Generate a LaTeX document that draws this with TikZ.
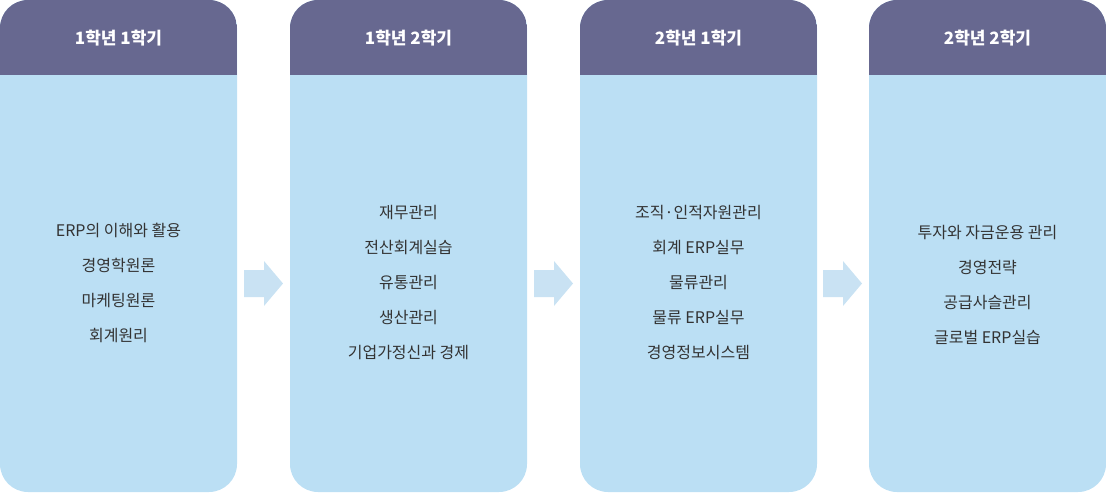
\documentclass[tikz,border=0pt]{standalone}
\usepackage{fontspec}
\setmainfont{Noto Sans CJK KR}
\definecolor{hdr}{HTML}{676890}
\definecolor{bodyc}{HTML}{BBDFF4}
\definecolor{arr}{HTML}{C9E2F3}
\definecolor{txt}{HTML}{333333}
\tikzset{
 card/.style={fill=bodyc,rounded corners=28pt},
 hd/.style={text=white,font=\fontsize{17}{20}\selectfont\bfseries},
 lst/.style={text=txt,font=\fontsize{16}{35}\selectfont,align=center},
 arrowshape/.style={fill=arr}
}
\begin{document}
\begin{tikzpicture}[x=1pt,y=-1pt]
\useasboundingbox (0,0) rectangle (1106,493);
\foreach \i/\x in {1/0,2/290,3/580,4/869}{
  \fill[card] (\x,0) rectangle (\x+237,492);
  \begin{scope}
    \clip[rounded corners=28pt] (\x,0) rectangle (\x+237,492);
    \fill[hdr] (\x,0) rectangle (\x+237,75);
  \end{scope}
  \coordinate (h\i) at (\x+118.5,38);
  \coordinate (b\i) at (\x+118.5,283);
}
\node[hd] (t1) at (h1) {1학년 1학기};
\node[hd] (t2) at (h2) {1학년 2학기};
\node[hd] (t3) at (h3) {2학년 1학기};
\node[hd] (t4) at (h4) {2학년 2학기};
\node[lst] (l1) at (b1) {ERP의 이해와 활용\\경영학원론\\마케팅원론\\회계원리};
\node[lst] (l2) at (b2) {재무관리\\전산회계실습\\유통관리\\생산관리\\기업가정신과 경제};
\node[lst] (l3) at (b3) {조직·인적자원관리\\회계 ERP실무\\물류관리\\물류 ERP실무\\경영정보시스템};
\node[lst] (l4) at ([yshift=-2]b1 -| b4) {투자와 자금운용 관리\\경영전략\\공급사슬관리\\글로벌 ERP실습};
\foreach \x in {244,534,823}{
  \fill[arrowshape] (\x,270) -- (\x+20,270) -- (\x+20,261) -- (\x+39,283.5) -- (\x+20,306) -- (\x+20,297) -- (\x,297) -- cycle;
}
\end{tikzpicture}
\end{document}
